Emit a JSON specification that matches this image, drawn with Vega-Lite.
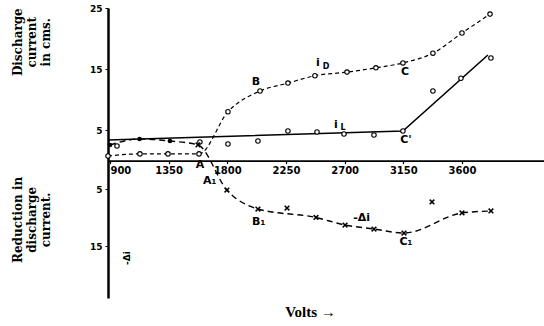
{
  "$schema": "https://vega.github.io/schema/vega-lite/v6.json",
  "autosize": {"type": "none"},
  "padding": {"left": 108, "top": 8, "right": 0, "bottom": 28},
  "width": 436,
  "height": 290,
  "background": "white",
  "config": {"view": {"stroke": null}},
  "datasets": {
    "pts": [
      {"series": "iD", "v": 885, "val": 0.75},
      {"series": "iD", "v": 1130, "val": 1.1},
      {"series": "iD", "v": 1345, "val": 1.1},
      {"series": "iD", "v": 1583, "val": 1.1},
      {"series": "iD", "v": 1805, "val": 8.0},
      {"series": "iD", "v": 2051, "val": 11.4},
      {"series": "iD", "v": 2265, "val": 12.7},
      {"series": "iD", "v": 2472, "val": 13.9},
      {"series": "iD", "v": 2718, "val": 14.5},
      {"series": "iD", "v": 2940, "val": 15.2},
      {"series": "iD", "v": 3147, "val": 16.0},
      {"series": "iD", "v": 3377, "val": 17.6},
      {"series": "iD", "v": 3600, "val": 20.9},
      {"series": "iD", "v": 3815, "val": 24.0},
      {"series": "iL", "v": 954, "val": 2.39},
      {"series": "iL", "v": 1590, "val": 3.05},
      {"series": "iL", "v": 1805, "val": 2.72},
      {"series": "iL", "v": 2035, "val": 3.21},
      {"series": "iL", "v": 2265, "val": 4.85},
      {"series": "iL", "v": 2488, "val": 4.68},
      {"series": "iL", "v": 2695, "val": 4.36},
      {"series": "iL", "v": 2925, "val": 4.19},
      {"series": "iL", "v": 3147, "val": 4.85},
      {"series": "iL", "v": 3377, "val": 11.4},
      {"series": "iL", "v": 3592, "val": 13.5},
      {"series": "iL", "v": 3822, "val": 16.8},
      {"series": "dTop", "v": 900, "val": 2.56},
      {"series": "dTop", "v": 1127, "val": 3.54},
      {"series": "dTop", "v": 1360, "val": 3.21},
      {"series": "dX", "v": 1575, "val": 2.56},
      {"series": "dX", "v": 1797, "val": -5.16},
      {"series": "dX", "v": 2035, "val": -8.49},
      {"series": "dXoff", "v": 2258, "val": -8.32},
      {"series": "dX", "v": 2480, "val": -9.98},
      {"series": "dX", "v": 2703, "val": -11.3},
      {"series": "dX", "v": 2925, "val": -12.0},
      {"series": "dX", "v": 3155, "val": -12.7},
      {"series": "dXoff", "v": 3370, "val": -7.26},
      {"series": "dX", "v": 3600, "val": -9.19},
      {"series": "dX", "v": 3822, "val": -8.84}
    ],
    "fit": [
      {"v": 885, "val": 3.37},
      {"v": 3147, "val": 4.85},
      {"v": 3799, "val": 17.3}
    ],
    "lab": [
      {"t": "B", "v": 2020, "val": 12.9},
      {"t": "C", "v": 3163, "val": 14.5},
      {"t": "C'", "v": 3170, "val": 3.37},
      {"t": "A", "v": 1590, "val": -0.77},
      {"t": "A₁", "v": 1665, "val": -3.6},
      {"t": "B₁", "v": 2040, "val": -10.8},
      {"t": "C₁", "v": 3170, "val": -14.3},
      {"t": "-Δi", "v": 2830, "val": -10.1},
      {"t": "i", "v": 2495, "val": 16.0},
      {"t": "i", "v": 2633, "val": 5.8}
    ],
    "sub": [
      {"t": "D", "v": 2557, "val": 15.3},
      {"t": "L", "v": 2687, "val": 5.3}
    ],
    "ttl": [
      {"t": "Discharge\ncurrent\nin cms.", "v": 194, "val": 19.4},
      {"t": "Reduction in\ndischarge\ncurrent.", "v": 194, "val": -10.4}
    ],
    "note": [
      {"t": "-Δi", "v": 1030, "val": -17.1}
    ]
  },
  "encoding": {
    "x": {
      "field": "v", "type": "quantitative",
      "scale": {"domain": [885, 4229], "nice": false, "zero": false},
      "axis": {
        "values": [900, 1350, 1800, 2250, 2700, 3150, 3600],
        "format": "d",
        "offset": -137.4,
        "grid": false,
        "domainColor": "black", "domainWidth": 1.8,
        "tickColor": "black", "tickSize": 3, "tickWidth": 1.2,
        "labelFont": "DejaVu Sans", "labelFontSize": 10, "labelFontWeight": "bold",
        "labelColor": "black", "labelPadding": 2, "labelFlush": 3, "labelDx": 3,
        "title": "Volts →",
        "titleFont": "Liberation Serif", "titleFontSize": 15, "titleFontWeight": "bold",
        "titleColor": "black", "titleX": 202, "titleY": 144, "titleBaseline": "top", "titleAlign": "center"
      }
    },
    "y": {
      "field": "val", "type": "quantitative",
      "scale": {"domain": [-24.1, 0, 25], "range": [290, 152.6, 0], "nice": false, "zero": false},
      "axis": {
        "values": [25, 15, 5, -5, -15],
        "labelExpr": "'' + abs(datum.value)",
        "grid": false,
        "title": null,
        "domainColor": "black", "domainWidth": 2.5,
        "tickColor": "black", "tickSize": 3,
        "labelFont": "DejaVu Sans", "labelFontSize": 9, "labelFontWeight": "bold",
        "labelColor": "black", "labelPadding": 3
      }
    }
  },
  "layer": [
    {
      "data": {"name": "fit"},
      "mark": {"type": "line", "color": "black", "strokeWidth": 1.6}
    },
    {
      "data": {"name": "pts"},
      "transform": [{"filter": "datum.series == 'iD'"}],
      "mark": {"type": "line", "color": "black", "strokeWidth": 1.2, "strokeDash": [4, 3], "interpolate": "monotone"}
    },
    {
      "data": {"name": "pts"},
      "transform": [{"filter": "datum.series == 'dTop' || datum.series == 'dX'"}],
      "mark": {"type": "line", "color": "black", "strokeWidth": 1.4, "strokeDash": [6, 4], "interpolate": "monotone"}
    },
    {
      "data": {"name": "pts"},
      "transform": [{"filter": "datum.series == 'iD' || datum.series == 'iL'"}],
      "mark": {"type": "point", "shape": "circle", "size": 20, "filled": true, "fill": "white", "stroke": "black", "strokeWidth": 1.1, "opacity": 1}
    },
    {
      "data": {"name": "pts"},
      "transform": [{"filter": "datum.series == 'dTop'"}],
      "mark": {"type": "point", "shape": "circle", "size": 22, "filled": true, "color": "black", "opacity": 1}
    },
    {
      "data": {"name": "pts"},
      "transform": [{"filter": "datum.series == 'dX' || datum.series == 'dXoff'"}],
      "mark": {"type": "point", "shape": "M-1,-1L1,1M-1,1L1,-1", "size": 22, "filled": false, "stroke": "black", "strokeWidth": 1.5, "opacity": 1}
    },
    {
      "data": {"name": "lab"},
      "mark": {"type": "text", "font": "DejaVu Sans", "fontSize": 11, "fontWeight": "bold", "color": "black", "align": "center", "baseline": "middle"},
      "encoding": {"text": {"field": "t"}}
    },
    {
      "data": {"name": "sub"},
      "mark": {"type": "text", "font": "DejaVu Sans", "fontSize": 8, "fontWeight": "bold", "color": "black", "align": "center", "baseline": "middle"},
      "encoding": {"text": {"field": "t"}}
    },
    {
      "data": {"name": "ttl"},
      "mark": {"type": "text", "font": "DejaVu Serif", "fontSize": 12, "fontWeight": "bold", "color": "black", "align": "center", "baseline": "middle", "angle": 270, "lineBreak": "\n", "lineHeight": 14},
      "encoding": {"text": {"field": "t"}}
    },
    {
      "data": {"name": "note"},
      "mark": {"type": "text", "font": "DejaVu Sans", "fontSize": 9, "fontWeight": "bold", "color": "black", "align": "center", "baseline": "middle", "angle": 270},
      "encoding": {"text": {"field": "t"}}
    }
  ]
}
